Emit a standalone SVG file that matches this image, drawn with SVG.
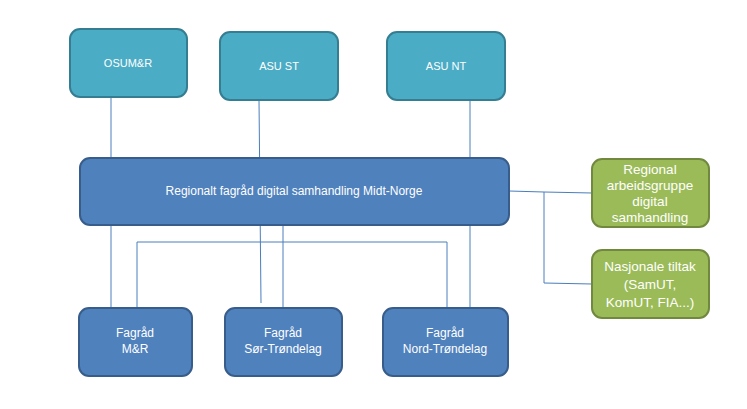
<svg xmlns="http://www.w3.org/2000/svg" width="747" height="409" viewBox="0 0 747 409">
<style>
.teal{fill:#4BACC6;stroke:#357D91;stroke-width:2}
.blue{fill:#4F81BD;stroke:#385D8A;stroke-width:2}
.green{fill:#9BBB59;stroke:#71893F;stroke-width:2}
.t{fill:#fff;font-family:"Liberation Sans",Arial,sans-serif;font-size:12px;text-anchor:middle;dominant-baseline:central}
.ts{font-size:11px}
.tg{font-size:13.5px}
.c{fill:none;stroke:#4A7EBB;stroke-width:1}
</style>
<rect width="747" height="409" fill="#fff"/>
<g id="connectors">
<line class="c" x1="111" y1="97" x2="111" y2="308"/>
<line class="c" x1="259" y1="100" x2="261" y2="303"/>
<line class="c" x1="470" y1="100" x2="470" y2="308"/>
<line class="c" x1="283" y1="225" x2="283" y2="308"/>
<polyline class="c" points="137,308 137,242 447,242 447,308"/>
<polyline class="c" points="509,191 544,192 592,193"/>
<polyline class="c" points="544,192 544,283 592,284"/>
</g>
<g id="central">
<rect class="blue" x="80" y="158" width="429" height="67" rx="10"/>
<text class="t" x="294" y="191">Regionalt fagråd digital samhandling Midt-Norge</text>
</g>
<g id="osum">
<rect class="teal" x="70" y="29" width="117" height="68" rx="10"/>
<text class="t ts" x="128" y="63">OSUM&amp;R</text>
</g>
<g id="asu-st">
<rect class="teal" x="220" y="32" width="118" height="68" rx="10"/>
<text class="t ts" x="279" y="66">ASU ST</text>
</g>
<g id="asu-nt">
<rect class="teal" x="387" y="32" width="118" height="68" rx="10"/>
<text class="t ts" x="446" y="66">ASU NT</text>
</g>
<g id="fagrad-mr">
<rect class="blue" x="79" y="308" width="113" height="68" rx="10"/>
<text class="t" x="135" y="333">Fagråd</text>
<text class="t" x="135" y="349">M&amp;R</text>
</g>
<g id="fagrad-st">
<rect class="blue" x="225" y="308" width="117" height="68" rx="10"/>
<text class="t" x="283" y="333">Fagråd</text>
<text class="t" x="283" y="349">Sør-Trøndelag</text>
</g>
<g id="fagrad-nt">
<rect class="blue" x="383" y="308" width="125" height="68" rx="10"/>
<text class="t" x="445" y="333">Fagråd</text>
<text class="t" x="445" y="349">Nord-Trøndelag</text>
</g>
<g id="regional-arbeidsgruppe">
<rect class="green" x="592" y="159" width="117" height="68" rx="10"/>
<text class="t tg" x="650" y="169">Regional</text>
<text class="t tg" x="650" y="185">arbeidsgruppe</text>
<text class="t tg" x="650" y="201">digital</text>
<text class="t tg" x="650" y="217">samhandling</text>
</g>
<g id="nasjonale-tiltak">
<rect class="green" x="592" y="250" width="117" height="68" rx="10"/>
<text class="t tg" x="650" y="266">Nasjonale tiltak</text>
<text class="t tg" x="650" y="284">(SamUT,</text>
<text class="t tg" x="650" y="302">KomUT, FIA...)</text>
</g>
</svg>
